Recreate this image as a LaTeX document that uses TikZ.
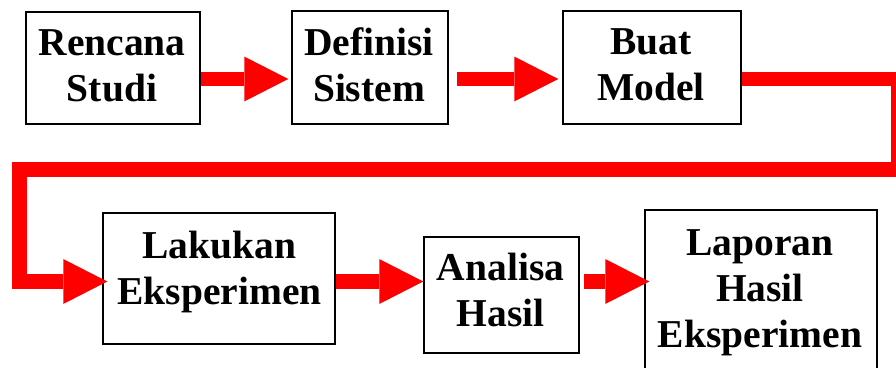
\documentclass[tikz,border=0pt]{standalone}
\usepackage{fontspec}
\setmainfont{Liberation Serif}
\usetikzlibrary{arrows.meta}
\definecolor{flowred}{RGB}{255,0,0}
\begin{document}
\begin{tikzpicture}[x=1pt,y=1pt,
  stage/.style={draw=black,line width=1.5pt,fill=white,inner sep=0pt},
  caption/.style={align=center,inner sep=0pt,font=\bfseries\fontsize{39.5}{46}\selectfont},
  bigtip/.style={-{Triangle[length=44pt 0 0,width=45pt 0 0,line width=0pt]}},
  flow/.style={draw=flowred,line width=14.5pt,bigtip},
  link/.style={draw=flowred,line width=14.5pt,line join=miter,bigtip}
]
\clip (0,0) rectangle (896,-367);

% stage boxes
\node[stage,minimum width=174pt,minimum height=112pt] (b1) at (113,-68) {};
\node[stage,minimum width=156pt,minimum height=113pt] (b2) at (370,-67.5) {};
\node[stage,minimum width=178pt,minimum height=113pt] (b3) at (652,-67.5) {};
\node[stage,minimum width=232pt,minimum height=131pt] (b4) at (219,-278.5) {};
\node[stage,minimum width=155pt,minimum height=116pt] (b5) at (501.5,-295) {};
\node[stage,minimum width=232pt,minimum height=168pt] (b6) at (761,-294) {};

% stage captions
\node[caption] (t1) at (112,-65.5) {Rencana\\Studi};
\node[caption] (t2) at (369,-65) {Definisi\\Sistem};
\node[caption] (t3) at (651,-65) {Buat\\Model};
\node[caption] (t4) at (219.5,-272) {Lakukan\\Eksperimen};
\node[caption] (t5) at (500.5,-290) {Analisa\\Hasil};
\node[caption] (t6) at (760,-292.5) {Laporan\\Hasil\\Eksperimen};

% bends of the return line
\coordinate (turnR) at (898.5,-169.5);
\coordinate (turnL) at (19.5,-281.5);

% connectors
\draw[flow,shorten >=3pt] (b1.east |- 0,-79) -- (b2.west |- 0,-79);
\draw[flow,shorten <=8pt,shorten >=4pt] (b2.east |- 0,-79) -- (b3.west |- 0,-79);
\draw[link,shorten >=-5pt] (b3.east |- 0,-79) -| (turnR) -| (turnL) -- (b4.west |- turnL);
\draw[flow] (b4.east |- 0,-281.5) -- (b5.west |- 0,-281.5);
\draw[flow,shorten <=4pt,shorten >=-5pt] (b5.east |- 0,-281.5) -- (b6.west |- 0,-281.5);
\end{tikzpicture}
\end{document}
